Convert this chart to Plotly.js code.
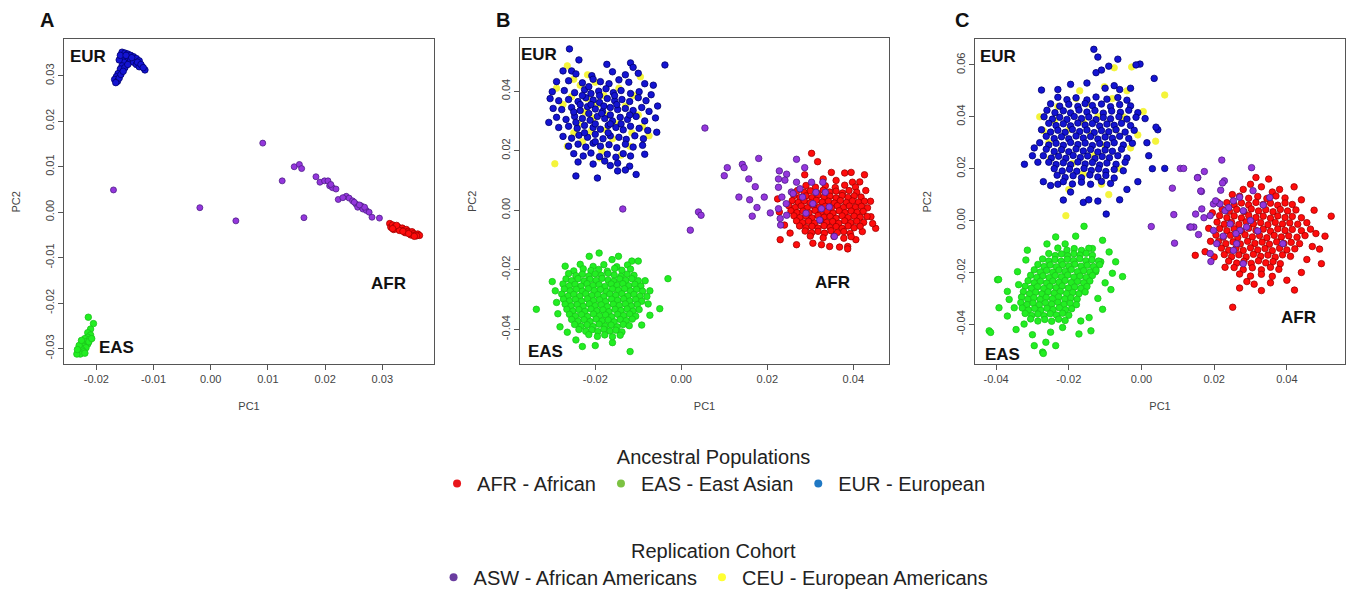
<!DOCTYPE html>
<html><head><meta charset="utf-8">
<script src="https://cdn.plot.ly/plotly-3.0.1.min.js"></script>
<style>html,body{margin:0;padding:0;background:#fff;}#chart{width:1354px;height:597px;}</style>
</head><body><div id="chart"></div>
<script>
// ---------- Legend categories ----------
const ANCESTRAL_NAMES = ['AFR - African','EAS - East Asian','EUR - European'];
const COHORT_NAMES = ['ASW - African Americans','CEU - European Americans'];
const PANEL_LABELS = ['A','B','C'];
const CLUSTER_LABELS = ['EUR','EAS','AFR'];

// ---------- Tick values / labels ----------
const A_XTICKS = [-0.02,-0.01,0,0.01,0.02,0.03];
const A_XLABELS = ['-0.02','-0.01','0.00','0.01','0.02','0.03'];
const A_YTICKS = [-0.03,-0.02,-0.01,0,0.01,0.02,0.03];
const A_YLABELS = ['-0.03','-0.02','-0.01','0.00','0.01','0.02','0.03'];
const B_XTICKS = [-0.02,0,0.02,0.04];
const B_XLABELS = ['-0.02','0.00','0.02','0.04'];
const B_YTICKS = [-0.04,-0.02,0,0.02,0.04];
const B_YLABELS = ['-0.04','-0.02','0.00','0.02','0.04'];
const C_XTICKS = [-0.04,-0.02,0,0.02,0.04];
const C_XLABELS = ['-0.04','-0.02','0.00','0.02','0.04'];
const C_YTICKS = [-0.04,-0.02,0,0.02,0.04,0.06];
const C_YLABELS = ['-0.04','-0.02','0.00','0.02','0.04','0.06'];

// ---------- Panel A (PC1, PC2) ----------
const A_EUR = [[-0.0155,0.0352],[-0.0150,0.0350],[-0.0145,0.0348],[-0.0140,0.0345],[-0.0135,0.0342],[-0.0130,0.0338],[-0.0125,0.0333],[-0.0120,0.0320],[-0.0115,0.0313],[-0.0150,0.0342],[-0.0145,0.0338],[-0.0140,0.0335],[-0.0135,0.0330],[-0.0130,0.0325],[-0.0125,0.0320],[-0.0155,0.0340],[-0.0152,0.0330],[-0.0155,0.0322],[-0.0158,0.0315],[-0.0162,0.0305],[-0.0165,0.0298],[-0.0168,0.0292],[-0.0163,0.0288],[-0.0160,0.0295],[-0.0157,0.0303],[-0.0150,0.0318],[-0.0145,0.0325],[-0.0160,0.0335],[-0.0158,0.0345],[-0.0148,0.0345],[-0.0138,0.0340],[-0.0128,0.0330],[-0.0122,0.0325],[-0.0118,0.0318],[-0.0153,0.0310],[-0.0166,0.0285]];
const A_EAS = [[-0.0214,-0.0231],[-0.0205,-0.0245],[-0.0210,-0.0257],[-0.0215,-0.0265],[-0.0210,-0.0270],[-0.0215,-0.0275],[-0.0220,-0.0278],[-0.0212,-0.0280],[-0.0218,-0.0285],[-0.0225,-0.0288],[-0.0215,-0.0290],[-0.0222,-0.0295],[-0.0228,-0.0298],[-0.0218,-0.0298],[-0.0225,-0.0303],[-0.0232,-0.0308],[-0.0222,-0.0307],[-0.0228,-0.0312],[-0.0234,-0.0312],[-0.0220,-0.0310],[-0.0230,-0.0293],[-0.0213,-0.0285],[-0.0208,-0.0278],[-0.0226,-0.0282],[-0.0233,-0.0302]];
const A_AFR = [[0.0313,-0.0025],[0.0315,-0.0033],[0.0318,-0.0028],[0.0322,-0.0032],[0.0325,-0.0036],[0.0328,-0.0033],[0.0332,-0.0037],[0.0335,-0.0035],[0.0338,-0.0040],[0.0342,-0.0038],[0.0345,-0.0042],[0.0348,-0.0045],[0.0352,-0.0043],[0.0355,-0.0047],[0.0358,-0.0050],[0.0362,-0.0048],[0.0365,-0.0051],[0.0320,-0.0038],[0.0330,-0.0040],[0.0340,-0.0045],[0.0350,-0.0050],[0.0360,-0.0052],[0.0336,-0.0042],[0.0346,-0.0047],[0.0325,-0.0029],[0.0356,-0.0053],[0.0318,-0.0036]];
const A_ASW = [[-0.0170,0.0049],[-0.0019,0.0010],[0.0044,-0.0019],[0.0091,0.0152],[0.0125,0.0069],[0.0146,0.0100],[0.0155,0.0105],[0.0159,0.0096],[0.0163,-0.0012],[0.0184,0.0078],[0.0191,0.0066],[0.0199,0.0069],[0.0205,0.0069],[0.0208,0.0058],[0.0213,0.0054],[0.0219,0.0051],[0.0223,0.0028],[0.0237,0.0035],[0.0242,0.0031],[0.0248,0.0025],[0.0254,0.0018],[0.0257,0.0011],[0.0263,0.0014],[0.0266,0.0007],[0.0272,0.0004],[0.0277,0.0000],[0.0282,-0.0011],[0.0295,-0.0013],[0.0269,0.0011],[0.0251,0.0022],[0.0260,0.0016],[0.0210,0.0061],[0.0231,0.0032]];

// ---------- Panel B ----------
const B_EUR = [[-0.0260,0.0542],
[-0.0238,0.0505],[-0.0173,0.0490],[-0.0118,0.0495],[-0.0112,0.0480],[-0.0038,0.0488],
[-0.0275,0.0468],[-0.0255,0.0468],[-0.0245,0.0458],[-0.0208,0.0452],[-0.0160,0.0465],[-0.0130,0.0455],[-0.0100,0.0460],
[-0.0290,0.0432],[-0.0262,0.0435],[-0.0230,0.0428],[-0.0205,0.0440],[-0.0188,0.0432],[-0.0168,0.0425],[-0.0145,0.0438],[-0.0122,0.0430],[-0.0085,0.0425],[-0.0065,0.0420],
[-0.0300,0.0398],[-0.0272,0.0402],[-0.0248,0.0395],[-0.0225,0.0405],[-0.0210,0.0392],[-0.0192,0.0400],[-0.0175,0.0408],[-0.0158,0.0395],[-0.0140,0.0402],[-0.0118,0.0392],[-0.0098,0.0398],[-0.0070,0.0388],
[-0.0305,0.0375],[-0.0285,0.0368],[-0.0262,0.0372],[-0.0240,0.0365],[-0.0222,0.0378],[-0.0205,0.0370],[-0.0190,0.0362],[-0.0172,0.0375],[-0.0155,0.0368],[-0.0138,0.0372],[-0.0120,0.0365],[-0.0100,0.0378],[-0.0082,0.0368],[-0.0055,0.0350],
[-0.0298,0.0342],[-0.0278,0.0338],[-0.0255,0.0345],[-0.0235,0.0335],[-0.0218,0.0348],[-0.0200,0.0340],[-0.0183,0.0332],[-0.0165,0.0345],[-0.0148,0.0338],[-0.0130,0.0342],[-0.0112,0.0335],[-0.0092,0.0345],[-0.0075,0.0332],
[-0.0308,0.0295],[-0.0290,0.0312],[-0.0268,0.0305],[-0.0248,0.0315],[-0.0230,0.0308],[-0.0212,0.0302],[-0.0195,0.0315],[-0.0178,0.0308],[-0.0160,0.0300],[-0.0142,0.0312],[-0.0125,0.0305],[-0.0105,0.0315],[-0.0085,0.0300],[-0.0060,0.0310],
[-0.0285,0.0278],[-0.0262,0.0282],[-0.0242,0.0275],[-0.0225,0.0285],[-0.0205,0.0278],[-0.0188,0.0272],[-0.0170,0.0285],[-0.0152,0.0278],[-0.0135,0.0270],[-0.0118,0.0282],[-0.0098,0.0275],[-0.0078,0.0268],[-0.0057,0.0262],
[-0.0275,0.0248],[-0.0255,0.0242],[-0.0238,0.0252],[-0.0218,0.0245],[-0.0200,0.0255],[-0.0182,0.0240],[-0.0165,0.0250],[-0.0145,0.0245],[-0.0128,0.0238],[-0.0108,0.0250],[-0.0088,0.0240],
[-0.0262,0.0215],[-0.0240,0.0222],[-0.0222,0.0212],[-0.0205,0.0225],[-0.0188,0.0215],[-0.0168,0.0220],[-0.0150,0.0210],[-0.0130,0.0222],[-0.0112,0.0212],[-0.0090,0.0218],
[-0.0250,0.0190],[-0.0228,0.0182],[-0.0210,0.0192],[-0.0190,0.0180],[-0.0172,0.0188],[-0.0152,0.0178],[-0.0135,0.0190],[-0.0118,0.0182],[-0.0085,0.0188],
[-0.0240,0.0162],[-0.0205,0.0155],[-0.0178,0.0165],[-0.0165,0.0150],[-0.0148,0.0158],[-0.0120,0.0148],
[-0.0245,0.0115],[-0.0195,0.0108],[-0.0148,0.0132],[-0.0130,0.0135],[-0.0105,0.0120],
[-0.0215,0.0325],[-0.0180,0.0350],[-0.0200,0.0290],[-0.0165,0.0320],[-0.0235,0.0355],[-0.0150,0.0355],[-0.0190,0.0385],[-0.0225,0.0260],[-0.0170,0.0260],[-0.0140,0.0290],[-0.0250,0.0330],[-0.0210,0.0355],[-0.0185,0.0325],[-0.0155,0.0385],[-0.0230,0.0385],[-0.0120,0.0320],[-0.0200,0.0230],[-0.0245,0.0295],[-0.0165,0.0290],[-0.0215,0.0415]];
const B_CEU = [[-0.0294,0.0156],[-0.0095,0.0448],[-0.0265,0.0485],[-0.0250,0.0440],[-0.0235,0.0420],[-0.0218,0.0455],[-0.0200,0.0430],[-0.0180,0.0385],[-0.0255,0.0382],[-0.0275,0.0355],[-0.0225,0.0330],[-0.0195,0.0355],[-0.0170,0.0320],[-0.0150,0.0290],[-0.0210,0.0265],[-0.0240,0.0290],[-0.0130,0.0350],[-0.0115,0.0260],[-0.0090,0.0280],[-0.0160,0.0240],[-0.0185,0.0200],[-0.0230,0.0230],[-0.0265,0.0215],[-0.0140,0.0185],[-0.0120,0.0215],[-0.0100,0.0320],[-0.0075,0.0250],[-0.0290,0.0410],[-0.0205,0.0310],[-0.0175,0.0270],[-0.0250,0.0260],[-0.0145,0.0410],[-0.0220,0.0375],[-0.0110,0.0385],[-0.0190,0.0175]];
const B_EAS = [[-0.0337,-0.0333],[-0.0293,-0.0271],[-0.0270,-0.0188],[-0.0191,-0.0144],[-0.0214,-0.0155],[-0.0115,-0.0171],[-0.0100,-0.0171],[-0.0031,-0.0230],[-0.0050,-0.0331],[-0.0073,-0.0353],[-0.0092,-0.0386],[-0.0119,-0.0475],[-0.0245,-0.0436],[-0.0230,-0.0458],[-0.0282,-0.0392],[-0.0287,-0.0348],[-0.0268,-0.0304],[-0.0077,-0.0315],[-0.0073,-0.0271],[-0.0084,-0.0237],[-0.0161,-0.0166],[-0.0146,-0.0155],[-0.0290,-0.0310],[-0.0300,-0.0240],[-0.0080,-0.0290],[-0.0200,-0.0455],[-0.0160,-0.0445],[-0.0265,-0.0410],
[-0.0235,-0.0182],[-0.0205,-0.0189],[-0.0180,-0.0183],[-0.0150,-0.0190],[-0.0125,-0.0184],
[-0.0250,-0.0204],[-0.0228,-0.0197],[-0.0210,-0.0203],[-0.0192,-0.0199],[-0.0172,-0.0205],[-0.0155,-0.0196],[-0.0138,-0.0202],[-0.0118,-0.0198],
[-0.0262,-0.0213],[-0.0245,-0.0220],[-0.0230,-0.0215],[-0.0215,-0.0221],[-0.0200,-0.0214],[-0.0186,-0.0219],[-0.0170,-0.0212],[-0.0156,-0.0218],[-0.0140,-0.0222],[-0.0126,-0.0215],[-0.0110,-0.0219],
[-0.0268,-0.0231],[-0.0255,-0.0237],[-0.0240,-0.0230],[-0.0226,-0.0238],[-0.0212,-0.0232],[-0.0198,-0.0236],[-0.0184,-0.0229],[-0.0170,-0.0235],[-0.0157,-0.0239],[-0.0143,-0.0231],[-0.0129,-0.0236],[-0.0115,-0.0230],[-0.0100,-0.0237],
[-0.0275,-0.0248],[-0.0260,-0.0254],[-0.0247,-0.0249],[-0.0233,-0.0255],[-0.0219,-0.0247],[-0.0205,-0.0253],[-0.0191,-0.0250],[-0.0177,-0.0256],[-0.0163,-0.0248],[-0.0149,-0.0252],[-0.0136,-0.0247],[-0.0122,-0.0254],[-0.0108,-0.0249],[-0.0094,-0.0255],
[-0.0272,-0.0265],[-0.0258,-0.0271],[-0.0244,-0.0266],[-0.0230,-0.0272],[-0.0216,-0.0264],[-0.0202,-0.0270],[-0.0188,-0.0267],[-0.0174,-0.0273],[-0.0160,-0.0265],[-0.0146,-0.0269],[-0.0132,-0.0264],[-0.0118,-0.0271],[-0.0104,-0.0266],[-0.0090,-0.0272],
[-0.0278,-0.0282],[-0.0263,-0.0288],[-0.0250,-0.0283],[-0.0236,-0.0289],[-0.0222,-0.0281],[-0.0208,-0.0287],[-0.0194,-0.0284],[-0.0180,-0.0290],[-0.0166,-0.0282],[-0.0152,-0.0286],[-0.0138,-0.0281],[-0.0124,-0.0288],[-0.0110,-0.0283],[-0.0096,-0.0289],
[-0.0274,-0.0299],[-0.0260,-0.0305],[-0.0246,-0.0300],[-0.0232,-0.0306],[-0.0218,-0.0298],[-0.0204,-0.0304],[-0.0190,-0.0301],[-0.0176,-0.0307],[-0.0162,-0.0299],[-0.0148,-0.0303],[-0.0134,-0.0298],[-0.0120,-0.0305],[-0.0106,-0.0300],[-0.0092,-0.0306],
[-0.0270,-0.0316],[-0.0256,-0.0322],[-0.0242,-0.0317],[-0.0228,-0.0323],[-0.0214,-0.0315],[-0.0200,-0.0321],[-0.0186,-0.0318],[-0.0172,-0.0324],[-0.0158,-0.0316],[-0.0144,-0.0320],[-0.0130,-0.0315],[-0.0116,-0.0322],[-0.0102,-0.0317],
[-0.0266,-0.0333],[-0.0252,-0.0339],[-0.0238,-0.0334],[-0.0224,-0.0340],[-0.0210,-0.0332],[-0.0196,-0.0338],[-0.0182,-0.0335],[-0.0168,-0.0341],[-0.0154,-0.0333],[-0.0140,-0.0337],[-0.0126,-0.0332],[-0.0112,-0.0339],[-0.0098,-0.0334],
[-0.0260,-0.0350],[-0.0246,-0.0356],[-0.0232,-0.0351],[-0.0218,-0.0357],[-0.0204,-0.0349],[-0.0190,-0.0355],[-0.0176,-0.0352],[-0.0162,-0.0358],[-0.0148,-0.0350],[-0.0134,-0.0354],[-0.0120,-0.0349],[-0.0106,-0.0356],
[-0.0255,-0.0367],[-0.0240,-0.0373],[-0.0226,-0.0368],[-0.0212,-0.0374],[-0.0198,-0.0366],[-0.0184,-0.0372],[-0.0170,-0.0369],[-0.0156,-0.0375],[-0.0142,-0.0367],[-0.0128,-0.0371],[-0.0114,-0.0366],
[-0.0248,-0.0384],[-0.0233,-0.0390],[-0.0219,-0.0385],[-0.0205,-0.0391],[-0.0191,-0.0383],[-0.0177,-0.0389],[-0.0163,-0.0386],[-0.0149,-0.0392],[-0.0135,-0.0384],[-0.0121,-0.0388],
[-0.0238,-0.0401],[-0.0222,-0.0407],[-0.0208,-0.0402],[-0.0194,-0.0408],[-0.0180,-0.0400],[-0.0166,-0.0406],[-0.0152,-0.0403],[-0.0138,-0.0409],
[-0.0215,-0.0418],[-0.0195,-0.0424],[-0.0178,-0.0419],[-0.0160,-0.0425],[-0.0142,-0.0420]];
const B_AFR = [[0.0303,0.0191],[0.0317,0.0163],[0.0349,0.0127],[0.0380,0.0125],[0.0395,0.0127],[0.0426,0.0119],[0.0429,0.0066],[0.0441,-0.0022],[0.0452,-0.0061],[0.0421,-0.0072],[0.0406,-0.0099],[0.0387,-0.0122],[0.0368,-0.0124],[0.0345,-0.0122],[0.0326,-0.0116],[0.0306,-0.0111],[0.0268,-0.0116],[0.0230,-0.0099],[0.0253,-0.0077],[0.0224,0.0038],[0.0228,-0.0006],[0.0287,0.0119],[0.0398,0.0094],[0.0440,0.0030],[0.0240,-0.0050],[0.0360,0.0100],[0.0330,0.0105],[0.0387,-0.0130],[0.0415,0.0095],[0.0445,-0.0045],
[0.0290,0.0083],[0.0312,0.0077],[0.0335,0.0082],[0.0358,0.0076],[0.0380,0.0084],[0.0405,0.0078],
[0.0270,0.0066],[0.0286,0.0060],[0.0300,0.0065],[0.0315,0.0059],[0.0330,0.0067],[0.0345,0.0061],[0.0360,0.0064],[0.0375,0.0058],[0.0390,0.0066],[0.0408,0.0060],
[0.0262,0.0049],[0.0276,0.0043],[0.0290,0.0048],[0.0304,0.0042],[0.0318,0.0050],[0.0332,0.0044],[0.0346,0.0047],[0.0360,0.0041],[0.0374,0.0049],[0.0388,0.0043],[0.0402,0.0048],[0.0418,0.0044],
[0.0258,0.0032],[0.0272,0.0026],[0.0286,0.0031],[0.0300,0.0025],[0.0314,0.0033],[0.0328,0.0027],[0.0342,0.0030],[0.0356,0.0024],[0.0370,0.0032],[0.0384,0.0026],[0.0398,0.0031],[0.0412,0.0027],[0.0426,0.0030],
[0.0250,0.0015],[0.0265,0.0009],[0.0279,0.0014],[0.0293,0.0008],[0.0307,0.0016],[0.0321,0.0010],[0.0335,0.0013],[0.0349,0.0007],[0.0363,0.0015],[0.0377,0.0009],[0.0391,0.0014],[0.0405,0.0010],[0.0419,0.0013],[0.0433,0.0008],
[0.0255,-0.0002],[0.0269,-0.0008],[0.0283,-0.0003],[0.0297,-0.0009],[0.0311,-0.0001],[0.0325,-0.0007],[0.0339,-0.0004],[0.0353,-0.0010],[0.0367,-0.0002],[0.0381,-0.0008],[0.0395,-0.0003],[0.0409,-0.0007],[0.0423,-0.0004],
[0.0262,-0.0019],[0.0276,-0.0025],[0.0290,-0.0020],[0.0304,-0.0026],[0.0318,-0.0018],[0.0332,-0.0024],[0.0346,-0.0021],[0.0360,-0.0027],[0.0374,-0.0019],[0.0388,-0.0025],[0.0402,-0.0020],[0.0416,-0.0024],[0.0432,-0.0021],
[0.0268,-0.0036],[0.0282,-0.0042],[0.0296,-0.0037],[0.0310,-0.0043],[0.0324,-0.0035],[0.0338,-0.0041],[0.0352,-0.0038],[0.0366,-0.0044],[0.0380,-0.0036],[0.0394,-0.0042],[0.0408,-0.0037],[0.0424,-0.0041],
[0.0275,-0.0053],[0.0290,-0.0059],[0.0304,-0.0054],[0.0318,-0.0060],[0.0332,-0.0052],[0.0346,-0.0058],[0.0360,-0.0055],[0.0374,-0.0061],[0.0388,-0.0053],[0.0402,-0.0059],[0.0416,-0.0054],
[0.0288,-0.0070],[0.0303,-0.0076],[0.0318,-0.0071],[0.0333,-0.0077],[0.0348,-0.0069],[0.0363,-0.0075],[0.0378,-0.0072],[0.0393,-0.0078],
[0.0300,-0.0087],[0.0330,-0.0093],[0.0355,-0.0088],[0.0378,-0.0094],[0.0395,-0.0089]];
const B_ASW = [[0.0055,0.0276],[-0.0136,0.0004],[0.0021,-0.0067],[0.0040,-0.0006],[0.0046,-0.0017],[0.0100,0.0116],[0.0107,0.0143],[0.0142,0.0154],[0.0146,0.0143],[0.0180,0.0174],[0.0157,0.0105],[0.0172,0.0079],[0.0134,0.0044],[0.0159,0.0035],[0.0193,0.0044],[0.0176,0.0009],[0.0165,-0.0020],[0.0207,-0.0009],[0.0228,0.0132],[0.0245,0.0121],[0.0268,0.0171],[0.0287,0.0143],[0.0226,0.0105],[0.0226,0.0077],[0.0241,0.0101],[0.0268,0.0094],[0.0256,0.0061],[0.0234,0.0044],[0.0226,0.0005],[0.0230,-0.0028],[0.0245,-0.0017],[0.0276,0.0072],[0.0329,0.0094],[0.0306,0.0022],[0.0322,-0.0033],[0.0326,0.0005],[0.0356,-0.0088],[0.0303,0.0094],[0.0231,-0.0050],[0.0244,0.0022],[0.0344,0.0011],[0.0282,0.0044],[0.0260,0.0056],[0.0313,0.0060],[0.0290,-0.0010],[0.0335,0.0060]];

// ---------- Panel C ----------
const C_EUR = [[-0.0131,0.0660],[-0.0120,0.0630],[-0.0065,0.0622],[-0.0004,0.0603],[-0.0015,0.0600],[-0.0090,0.0595],[-0.0110,0.0580],[-0.0125,0.0570],[0.0035,0.0548],[-0.0150,0.0530],[-0.0195,0.0525],[-0.0275,0.0503],[-0.0230,0.0505],[-0.0075,0.0520],[-0.0060,0.0505],[-0.0030,0.0510],[-0.0100,0.0510],
[-0.0322,0.0217],[-0.0295,0.0280],[-0.0285,0.0225],[-0.0300,0.0250],[0.0064,0.0201],[0.0030,0.0200],[0.0045,0.0350],[0.0040,0.0360],[0.0015,0.0300],[0.0020,0.0250],
[-0.0097,0.0025],[-0.0215,0.0079],[-0.0195,0.0110],[-0.0160,0.0070],[-0.0145,0.0080],[-0.0120,0.0075],[-0.0060,0.0080],[-0.0230,0.0140],[-0.0040,0.0120],[-0.0010,0.0150],[-0.0270,0.0150],[-0.0250,0.0135],
[-0.0230,0.0475],[-0.0205,0.0466],[-0.0180,0.0473],[-0.0150,0.0465],[-0.0125,0.0476],[-0.0095,0.0468],[-0.0065,0.0474],[-0.0040,0.0464],
[-0.0250,0.0450],[-0.0225,0.0441],[-0.0200,0.0448],[-0.0175,0.0440],[-0.0155,0.0451],[-0.0135,0.0443],[-0.0110,0.0449],[-0.0085,0.0439],[-0.0060,0.0447],[-0.0030,0.0442],
[-0.0260,0.0425],[-0.0238,0.0416],[-0.0215,0.0423],[-0.0195,0.0415],[-0.0172,0.0426],[-0.0150,0.0418],[-0.0128,0.0424],[-0.0105,0.0414],[-0.0082,0.0422],[-0.0058,0.0417],[-0.0035,0.0425],[-0.0010,0.0416],
[-0.0268,0.0400],[-0.0245,0.0391],[-0.0225,0.0398],[-0.0205,0.0390],[-0.0185,0.0401],[-0.0165,0.0393],[-0.0145,0.0399],[-0.0125,0.0389],[-0.0105,0.0397],[-0.0085,0.0392],[-0.0062,0.0400],[-0.0040,0.0391],[-0.0015,0.0398],[0.0010,0.0393],
[-0.0255,0.0375],[-0.0235,0.0366],[-0.0215,0.0373],[-0.0195,0.0365],[-0.0175,0.0376],[-0.0155,0.0368],[-0.0135,0.0374],[-0.0115,0.0364],[-0.0095,0.0372],[-0.0075,0.0367],[-0.0055,0.0375],[-0.0030,0.0366],
[-0.0275,0.0350],[-0.0250,0.0341],[-0.0230,0.0348],[-0.0210,0.0340],[-0.0190,0.0351],[-0.0170,0.0343],[-0.0150,0.0349],[-0.0130,0.0339],[-0.0110,0.0347],[-0.0090,0.0342],[-0.0070,0.0350],[-0.0045,0.0341],[-0.0020,0.0348],
[-0.0262,0.0325],[-0.0240,0.0316],[-0.0220,0.0323],[-0.0200,0.0315],[-0.0180,0.0326],[-0.0160,0.0318],[-0.0140,0.0324],[-0.0120,0.0314],[-0.0100,0.0322],[-0.0080,0.0317],[-0.0060,0.0325],[-0.0035,0.0316],
[-0.0280,0.0300],[-0.0255,0.0291],[-0.0235,0.0298],[-0.0215,0.0290],[-0.0195,0.0301],[-0.0175,0.0293],[-0.0155,0.0299],[-0.0135,0.0289],[-0.0115,0.0297],[-0.0095,0.0292],[-0.0075,0.0300],[-0.0050,0.0291],[-0.0025,0.0298],
[-0.0262,0.0275],[-0.0240,0.0266],[-0.0220,0.0273],[-0.0200,0.0265],[-0.0180,0.0276],[-0.0160,0.0268],[-0.0140,0.0274],[-0.0120,0.0264],[-0.0100,0.0272],[-0.0080,0.0267],[-0.0055,0.0275],
[-0.0270,0.0250],[-0.0248,0.0241],[-0.0228,0.0248],[-0.0208,0.0240],[-0.0188,0.0251],[-0.0168,0.0243],[-0.0148,0.0249],[-0.0128,0.0239],[-0.0108,0.0247],[-0.0088,0.0242],[-0.0065,0.0250],[-0.0040,0.0241],
[-0.0255,0.0225],[-0.0235,0.0216],[-0.0215,0.0223],[-0.0195,0.0215],[-0.0175,0.0226],[-0.0155,0.0218],[-0.0135,0.0224],[-0.0115,0.0214],[-0.0095,0.0222],[-0.0070,0.0217],[-0.0045,0.0225],
[-0.0240,0.0200],[-0.0218,0.0191],[-0.0198,0.0198],[-0.0178,0.0190],[-0.0158,0.0201],[-0.0138,0.0193],[-0.0118,0.0199],[-0.0098,0.0189],[-0.0075,0.0197],[-0.0050,0.0192],
[-0.0232,0.0175],[-0.0210,0.0166],[-0.0188,0.0173],[-0.0165,0.0165],[-0.0142,0.0176],[-0.0120,0.0168],[-0.0098,0.0174],[-0.0075,0.0164],
[-0.0215,0.0150],[-0.0190,0.0141],[-0.0165,0.0148],[-0.0140,0.0140],[-0.0110,0.0151],[-0.0085,0.0143]];
const C_CEU = [[0.0064,0.0484],[-0.0208,0.0019],[-0.0270,0.0347],[0.0039,0.0306],[-0.0075,0.0589],[-0.0027,0.0592],[-0.0102,0.0516],[-0.0255,0.0300],[-0.0240,0.0385],[-0.0220,0.0275],[-0.0190,0.0220],[-0.0160,0.0180],[-0.0130,0.0250],[-0.0100,0.0290],[-0.0070,0.0350],[-0.0050,0.0400],[-0.0030,0.0280],[-0.0010,0.0330],[0.0005,0.0420],[-0.0180,0.0470],[-0.0150,0.0450],[-0.0120,0.0400],[-0.0200,0.0350],[-0.0230,0.0440],[-0.0170,0.0500],[-0.0080,0.0470],[-0.0140,0.0330],[-0.0250,0.0240],[-0.0110,0.0140],[-0.0200,0.0120],[-0.0060,0.0200],[-0.0280,0.0400],[-0.0160,0.0380],[-0.0040,0.0500],[-0.0090,0.0100]];
const C_EAS = [[-0.0158,-0.0022],[-0.0236,-0.0063],[-0.0181,-0.0060],[-0.0107,-0.0076],[-0.0089,-0.0121],[-0.0071,-0.0159],[-0.0052,-0.0216],[-0.0080,-0.0203],[-0.0084,-0.0266],[-0.0107,-0.0342],[-0.0139,-0.0425],[-0.0172,-0.0437],[-0.0236,-0.0482],[-0.0263,-0.0469],[-0.0295,-0.0482],[-0.0272,-0.0507],[-0.0323,-0.0399],[-0.0369,-0.0368],[-0.0392,-0.0336],[-0.0419,-0.0425],[-0.0396,-0.0228],[-0.0369,-0.0273],[-0.0364,-0.0304],[-0.0341,-0.0197],[-0.0318,-0.0152],[-0.0314,-0.0114],[-0.0144,-0.0374],[-0.0167,-0.0387],[-0.0217,-0.0412],[-0.0338,-0.0247],[-0.0350,-0.0336],[-0.0135,-0.0108],[-0.0126,-0.0197],[-0.0112,-0.0159],[-0.0415,-0.0431],[-0.0393,-0.0227],[-0.0270,-0.0512],[-0.0210,-0.0090],[-0.0260,-0.0090],[-0.0100,-0.0240],[-0.0120,-0.0300],[-0.0345,-0.0420],[-0.0250,-0.0430],[-0.0300,-0.0440],
[-0.0230,-0.0106],[-0.0205,-0.0114],[-0.0185,-0.0108],[-0.0165,-0.0115],[-0.0145,-0.0107],
[-0.0255,-0.0127],[-0.0237,-0.0135],[-0.0220,-0.0129],[-0.0203,-0.0136],[-0.0186,-0.0128],[-0.0169,-0.0133],[-0.0152,-0.0126],[-0.0135,-0.0134],
[-0.0272,-0.0148],[-0.0255,-0.0156],[-0.0238,-0.0150],[-0.0221,-0.0157],[-0.0204,-0.0149],[-0.0187,-0.0154],[-0.0170,-0.0147],[-0.0153,-0.0155],[-0.0136,-0.0151],[-0.0118,-0.0156],
[-0.0285,-0.0169],[-0.0268,-0.0177],[-0.0251,-0.0171],[-0.0234,-0.0178],[-0.0217,-0.0170],[-0.0200,-0.0175],[-0.0183,-0.0168],[-0.0166,-0.0176],[-0.0149,-0.0172],[-0.0132,-0.0177],[-0.0115,-0.0170],
[-0.0295,-0.0190],[-0.0278,-0.0198],[-0.0261,-0.0192],[-0.0244,-0.0199],[-0.0227,-0.0191],[-0.0210,-0.0196],[-0.0193,-0.0189],[-0.0176,-0.0197],[-0.0159,-0.0193],[-0.0142,-0.0198],[-0.0125,-0.0191],
[-0.0305,-0.0211],[-0.0288,-0.0219],[-0.0271,-0.0213],[-0.0254,-0.0220],[-0.0237,-0.0212],[-0.0220,-0.0217],[-0.0203,-0.0210],[-0.0186,-0.0218],[-0.0169,-0.0214],[-0.0152,-0.0219],[-0.0135,-0.0212],
[-0.0312,-0.0232],[-0.0295,-0.0240],[-0.0278,-0.0234],[-0.0261,-0.0241],[-0.0244,-0.0233],[-0.0227,-0.0238],[-0.0210,-0.0231],[-0.0193,-0.0239],[-0.0176,-0.0235],[-0.0159,-0.0240],[-0.0142,-0.0233],
[-0.0320,-0.0253],[-0.0303,-0.0261],[-0.0286,-0.0255],[-0.0269,-0.0262],[-0.0252,-0.0254],[-0.0235,-0.0259],[-0.0218,-0.0252],[-0.0201,-0.0260],[-0.0184,-0.0256],[-0.0167,-0.0261],[-0.0150,-0.0254],
[-0.0325,-0.0274],[-0.0308,-0.0282],[-0.0291,-0.0276],[-0.0274,-0.0283],[-0.0257,-0.0275],[-0.0240,-0.0280],[-0.0223,-0.0273],[-0.0206,-0.0281],[-0.0189,-0.0277],[-0.0172,-0.0282],[-0.0155,-0.0275],
[-0.0330,-0.0295],[-0.0313,-0.0303],[-0.0296,-0.0297],[-0.0279,-0.0304],[-0.0262,-0.0296],[-0.0245,-0.0301],[-0.0228,-0.0294],[-0.0211,-0.0302],[-0.0194,-0.0298],[-0.0177,-0.0303],
[-0.0332,-0.0316],[-0.0315,-0.0324],[-0.0298,-0.0318],[-0.0281,-0.0325],[-0.0264,-0.0317],[-0.0247,-0.0322],[-0.0230,-0.0315],[-0.0213,-0.0323],[-0.0196,-0.0319],[-0.0179,-0.0324],
[-0.0328,-0.0337],[-0.0311,-0.0345],[-0.0294,-0.0339],[-0.0277,-0.0346],[-0.0260,-0.0338],[-0.0243,-0.0343],[-0.0226,-0.0336],[-0.0209,-0.0344],[-0.0192,-0.0340],
[-0.0320,-0.0358],[-0.0302,-0.0366],[-0.0285,-0.0360],[-0.0268,-0.0367],[-0.0251,-0.0359],[-0.0234,-0.0364],[-0.0217,-0.0357],[-0.0200,-0.0365],
[-0.0305,-0.0379],[-0.0285,-0.0387],[-0.0266,-0.0381],[-0.0247,-0.0388],[-0.0228,-0.0380],[-0.0210,-0.0385]];
const C_AFR = [[0.0315,0.0166],[0.0522,0.0017],[0.0251,-0.0334],[0.0148,-0.0134],[0.0421,-0.0268],[0.0495,-0.0166],[0.0300,0.0140],[0.0330,0.0130],[0.0280,0.0120],[0.0380,0.0120],[0.0420,0.0130],[0.0440,0.0080],[0.0475,0.0040],[0.0480,-0.0050],[0.0470,-0.0100],[0.0490,-0.0110],[0.0455,-0.0150],[0.0440,-0.0200],[0.0400,-0.0230],[0.0355,-0.0240],[0.0310,-0.0245],[0.0270,-0.0260],[0.0330,-0.0270],[0.0290,-0.0235],[0.0190,-0.0080],[0.0185,-0.0030],[0.0195,0.0030],[0.0210,0.0070],[0.0175,-0.0120],[0.0200,-0.0140],[0.0230,-0.0180],[0.0350,0.0160],[0.0505,-0.0060],[0.0360,0.0110],[0.0250,0.0100],
[0.0270,0.0094],[0.0295,0.0086],[0.0320,0.0093],[0.0345,0.0085],[0.0370,0.0095],[0.0395,0.0087],
[0.0235,0.0069],[0.0255,0.0061],[0.0275,0.0068],[0.0295,0.0060],[0.0315,0.0070],[0.0335,0.0062],[0.0355,0.0067],[0.0375,0.0059],[0.0395,0.0068],[0.0415,0.0062],
[0.0222,0.0044],[0.0242,0.0036],[0.0262,0.0043],[0.0282,0.0035],[0.0302,0.0045],[0.0322,0.0037],[0.0342,0.0042],[0.0362,0.0034],[0.0382,0.0043],[0.0402,0.0037],[0.0425,0.0041],
[0.0215,0.0019],[0.0235,0.0011],[0.0255,0.0018],[0.0275,0.0010],[0.0295,0.0020],[0.0315,0.0012],[0.0335,0.0017],[0.0355,0.0009],[0.0375,0.0018],[0.0395,0.0012],[0.0415,0.0016],[0.0440,0.0011],
[0.0208,-0.0006],[0.0228,-0.0014],[0.0248,-0.0007],[0.0268,-0.0015],[0.0288,-0.0005],[0.0308,-0.0013],[0.0328,-0.0008],[0.0348,-0.0016],[0.0368,-0.0007],[0.0388,-0.0013],[0.0408,-0.0009],[0.0430,-0.0014],[0.0455,-0.0008],
[0.0215,-0.0031],[0.0235,-0.0039],[0.0255,-0.0032],[0.0275,-0.0040],[0.0295,-0.0030],[0.0315,-0.0038],[0.0335,-0.0033],[0.0355,-0.0041],[0.0375,-0.0032],[0.0395,-0.0038],[0.0415,-0.0034],[0.0440,-0.0039],[0.0465,-0.0033],
[0.0205,-0.0056],[0.0225,-0.0064],[0.0245,-0.0057],[0.0265,-0.0065],[0.0285,-0.0055],[0.0305,-0.0063],[0.0325,-0.0058],[0.0345,-0.0066],[0.0365,-0.0057],[0.0385,-0.0063],[0.0405,-0.0059],[0.0428,-0.0064],[0.0450,-0.0058],
[0.0212,-0.0081],[0.0232,-0.0089],[0.0252,-0.0082],[0.0272,-0.0090],[0.0292,-0.0080],[0.0312,-0.0088],[0.0332,-0.0083],[0.0352,-0.0091],[0.0372,-0.0082],[0.0392,-0.0088],[0.0412,-0.0084],[0.0435,-0.0089],
[0.0220,-0.0106],[0.0240,-0.0114],[0.0260,-0.0107],[0.0280,-0.0115],[0.0300,-0.0105],[0.0320,-0.0113],[0.0340,-0.0108],[0.0360,-0.0116],[0.0380,-0.0107],[0.0400,-0.0113],[0.0422,-0.0109],
[0.0228,-0.0131],[0.0248,-0.0139],[0.0268,-0.0132],[0.0288,-0.0140],[0.0308,-0.0130],[0.0328,-0.0138],[0.0348,-0.0133],[0.0368,-0.0141],[0.0388,-0.0132],[0.0410,-0.0138],
[0.0240,-0.0156],[0.0262,-0.0164],[0.0282,-0.0157],[0.0302,-0.0165],[0.0322,-0.0155],[0.0342,-0.0163],[0.0362,-0.0158],[0.0382,-0.0166],
[0.0255,-0.0181],[0.0280,-0.0189],[0.0305,-0.0182],[0.0330,-0.0190],[0.0355,-0.0180],[0.0378,-0.0188],
[0.0270,-0.0206],[0.0300,-0.0214],[0.0330,-0.0207],[0.0360,-0.0215]];
const C_ASW = [[0.0027,-0.0023],[0.0091,-0.0087],[0.0085,0.0125],[0.0107,0.0201],[0.0116,0.0201],[0.0089,0.0023],[0.0155,0.0166],[0.0173,0.0189],[0.0165,0.0112],[0.0166,0.0045],[0.0133,-0.0025],[0.0144,-0.0025],[0.0157,-0.0054],[0.0189,0.0019],[0.0221,0.0233],[0.0228,0.0153],[0.0303,0.0204],[0.0198,0.0064],[0.0218,0.0117],[0.0216,0.0064],[0.0230,0.0038],[0.0198,-0.0038],[0.0207,-0.0089],[0.0189,-0.0127],[0.0253,0.0076],[0.0280,0.0038],[0.0271,-0.0038],[0.0289,-0.0025],[0.0253,-0.0115],[0.0307,0.0115],[0.0280,-0.0166],[0.0353,0.0089],[0.0389,-0.0089],[0.0244,-0.0013],[0.0262,-0.0089],[0.0154,0.0165],[0.0163,0.0114],[0.0223,0.0145],[0.0136,-0.0025],[0.0149,0.0025],[0.0172,0.0011],[0.0204,0.0076],[0.0191,-0.0158],[0.0240,0.0050],[0.0260,-0.0050],[0.0225,-0.0060],[0.0300,0.0000],[0.0270,0.0090],[0.0320,-0.0040],[0.0335,0.0060]];

// ---------- Styling / layout helpers ----------
const W = 1354, H = 597;
const FONT = 'Liberation Sans, Arial, Helvetica, sans-serif';
const px = v => v / W;
const py = v => 1 - v / H;

const STYLE = {
  EUR: {color:'#1414d2', line:'#00006e'},
  EAS: {color:'#22ee22', line:'#1cc41c'},
  AFR: {color:'#ff0c0c', line:'#a00000'},
  ASW: {color:'#9436dc', line:'#4e1e88'},
  CEU: {color:'#f4f43a', line:'#f4f43a'}
};
const LEG_COLORS = ['#e8161b','#7cc242','#1f78c4','#6a3da0','#ffff33'];

function tr(arr, key, ax, size) {
  return {
    type:'scatter', mode:'markers',
    x: arr.map(p => p[0]), y: arr.map(p => p[1]),
    xaxis: 'x' + ax, yaxis: 'y' + ax,
    marker: {size: size, color: STYLE[key].color, line: {color: STYLE[key].line, width: 0.8}},
    showlegend:false, hoverinfo:'skip', cliponaxis:true
  };
}

const traces = [
  tr(A_EUR,'EUR','',6.5), tr(A_EAS,'EAS','',6.5), tr(A_AFR,'AFR','',6.5), tr(A_ASW,'ASW','',6),
  tr(B_CEU,'CEU','2',6.5), tr(B_EUR,'EUR','2',6.5), tr(B_EAS,'EAS','2',6.5), tr(B_AFR,'AFR','2',6.5), tr(B_ASW,'ASW','2',6.5),
  tr(C_CEU,'CEU','3',6.5), tr(C_EUR,'EUR','3',6.5), tr(C_EAS,'EAS','3',6.5), tr(C_AFR,'AFR','3',6.5), tr(C_ASW,'ASW','3',6.5)
];
ANCESTRAL_NAMES.forEach((n,i) => traces.push({type:'scatter', mode:'markers', x:[null], y:[null], name:n, legend:'legend',
  marker:{size:8, color:LEG_COLORS[i]}, showlegend:true, hoverinfo:'skip'}));
COHORT_NAMES.forEach((n,i) => traces.push({type:'scatter', mode:'markers', x:[null], y:[null], name:n, legend:'legend2',
  marker:{size:8, color:LEG_COLORS[3+i]}, showlegend:true, hoverinfo:'skip'}));

function xax(dom, range, vals, txt, anchor) {
  return {domain:[px(dom[0]), px(dom[1])], range:range, anchor:anchor, tickvals:vals, ticktext:txt,
    showline:true, mirror:true, linecolor:'#555', linewidth:1, ticks:'outside', ticklen:5, tickcolor:'#555',
    showgrid:false, zeroline:false, tickfont:{family:FONT, size:11, color:'#444'},
    title:{text:'PC1', font:{family:FONT, size:11, color:'#444'}, standoff:18}, fixedrange:true};
}
function yax(dom, range, vals, txt, anchor) {
  return {domain:[py(dom[1]), py(dom[0])], range:range, anchor:anchor, tickvals:vals, ticktext:txt, tickangle:-90,
    showline:true, mirror:true, linecolor:'#555', linewidth:1, ticks:'outside', ticklen:5, tickcolor:'#555',
    showgrid:false, zeroline:false, tickfont:{family:FONT, size:11, color:'#444'},
    title:{text:'PC2', font:{family:FONT, size:11, color:'#444'}, standoff:20}, fixedrange:true};
}

function ann(text, x, y, size) {
  return {text:text, x:px(x), y:py(y), xref:'paper', yref:'paper', showarrow:false, xanchor:'center', yanchor:'middle',
    font:{family:FONT, size:size, color:'#111', weight:700}};
}

const layout = {
  width:W, height:H, margin:{l:0, r:0, t:0, b:0}, paper_bgcolor:'#fff', plot_bgcolor:'#fff',
  font:{family:FONT},
  xaxis:  xax([64,434],  [-0.02565,0.03904], A_XTICKS, A_XLABELS, 'y'),
  yaxis:  yax([40,369],  [-0.0334,0.0380],   A_YTICKS, A_YLABELS, 'x'),
  xaxis2: xax([520,889], [-0.0375,0.0483],   B_XTICKS, B_XLABELS, 'y2'),
  yaxis2: yax([39,369],  [-0.0517,0.0577],   B_YTICKS, B_YLABELS, 'x2'),
  xaxis3: xax([975,1345],[-0.0458,0.0560],   C_XTICKS, C_XLABELS, 'y3'),
  yaxis3: yax([40,369],  [-0.0553,0.0698],   C_YTICKS, C_YLABELS, 'x3'),
  showlegend:true,
  legend: {orientation:'h', x:0.527, xanchor:'center', y:py(444), yanchor:'top', bgcolor:'rgba(0,0,0,0)',
    font:{family:FONT, size:20, color:'#222'}, itemclick:false, itemdoubleclick:false,
    title:{text:'Ancestral Populations', side:'top center', font:{family:FONT, size:20, color:'#222'}}},
  legend2: {orientation:'h', x:0.527, xanchor:'center', y:py(539), yanchor:'top', bgcolor:'rgba(0,0,0,0)',
    font:{family:FONT, size:20, color:'#222'}, itemclick:false, itemdoubleclick:false,
    title:{text:'Replication Cohort', side:'top center', font:{family:FONT, size:20, color:'#222'}}},
  annotations: [
    ann(PANEL_LABELS[0], 47, 20, 20), ann(PANEL_LABELS[1], 503, 20, 20), ann(PANEL_LABELS[2], 962, 20, 20),
    ann(CLUSTER_LABELS[0], 88, 57, 17), ann(CLUSTER_LABELS[1], 117, 352, 17), ann(CLUSTER_LABELS[2], 388, 287, 17),
    ann(CLUSTER_LABELS[0], 539, 55, 17), ann(CLUSTER_LABELS[2], 833, 286, 17), ann(CLUSTER_LABELS[1], 545, 356, 17),
    ann(CLUSTER_LABELS[0], 998, 57, 17), ann(CLUSTER_LABELS[2], 1298, 322, 17), ann(CLUSTER_LABELS[1], 1002, 359, 17)
  ]
};

Plotly.newPlot('chart', traces, layout, {displayModeBar:false, staticPlot:true});
</script></body></html>
